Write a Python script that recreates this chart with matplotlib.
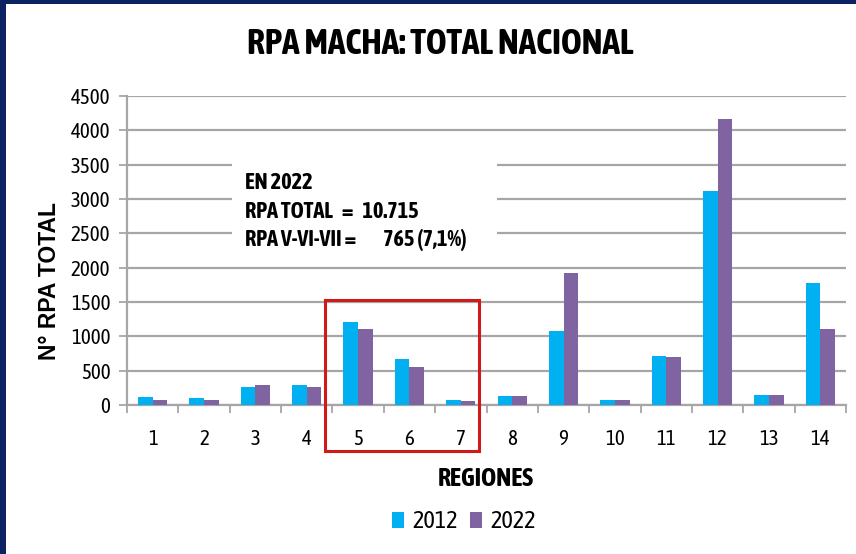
import matplotlib
matplotlib.use("Agg")
import matplotlib.pyplot as plt
from matplotlib.patches import Rectangle
import numpy as np

regions = ["1", "2", "3", "4", "5", "6", "7", "8", "9", "10", "11", "12", "13", "14"]
rpa_2012 = [110, 95, 265, 290, 1210, 665, 75, 135, 1080, 70, 715, 3120, 145, 1770]
rpa_2022 = [70, 70, 290, 265, 1100, 550, 58, 135, 1925, 70, 705, 4160, 145, 1100]
series_labels = ["2012", "2022"]
yticks = [0, 500, 1000, 1500, 2000, 2500, 3000, 3500, 4000, 4500]

NARROW = ["Asap Condensed", "Liberation Sans"]
WIDE = ["Liberation Sans", "DejaVu Sans"]

C2012 = "#00B0F0"
C2022 = "#8064A2"
GRID = "#A6A6A6"

W, H = 856, 554
fig = plt.figure(figsize=(W / 100, H / 100), dpi=100)
fig.patch.set_facecolor("white")
renderer = fig.canvas.get_renderer()

def fx(px):
    return px / W

def fy(py):
    return 1 - py / H

ax = fig.add_axes([fx(127), fy(405), fx(846) - fx(127), fy(96) - fy(405)])
x = np.arange(len(regions))
bw = 0.285
ax.bar(x - bw / 2, rpa_2012, width=bw, color=C2012, label=series_labels[0], zorder=3)
ax.bar(x + bw / 2, rpa_2022, width=bw, color=C2022, label=series_labels[1], zorder=3)

ax.set_xlim(-0.5, len(regions) - 0.5)
ax.set_ylim(0, 4500)
ax.set_yticks(yticks)
ax.set_yticklabels([str(v) for v in yticks], fontfamily=NARROW, fontsize=15)
ax.set_xticks(x)
ax.set_xticklabels(regions, fontfamily=NARROW, fontsize=15)
ax.set_xticks(np.arange(-0.5, len(regions)), minor=True)
ax.tick_params(axis="x", which="major", length=0, pad=17)
ax.tick_params(axis="x", which="minor", length=6, width=1.3, color=GRID, direction="out")
ax.tick_params(axis="y", length=6, width=1.3, color=GRID, pad=6)
ax.grid(axis="y", color=GRID, linewidth=1.6, zorder=0)
for s in ["top", "right"]:
    ax.spines[s].set_visible(False)
for s in ["left", "bottom"]:
    ax.spines[s].set_color(GRID)
    ax.spines[s].set_linewidth(1.6)
ax.set_axisbelow(True)

# text box with white background covering gridlines
ax.add_patch(Rectangle((fx(232), fy(255)), fx(497) - fx(232), fy(140) - fy(255),
                       transform=fig.transFigure, facecolor="white", edgecolor="none", zorder=2))
box_kw = dict(fontfamily=NARROW, fontweight="bold", fontsize=16, va="center", ha="left")

def text_width(s):
    t = fig.text(0, 0, s, **box_kw)
    w = t.get_window_extent(renderer).width
    t.remove()
    return w

def padded(left, right, left_end_px, right_start_px, x0=245):
    # pick number of spaces so that 'right' starts near right_start_px
    wr = text_width(right)
    best, best_err = 1, 1e9
    for n in range(1, 20):
        w = text_width(left + " " * n + right)
        err = abs(x0 + w - (right_start_px + wr))
        if err < best_err:
            best, best_err = n, err
    return left + " " * best + right

line2_left = "RPA TOTAL"
line2 = padded(line2_left, "=", 0, 342)
line2 = padded(line2, "10.715", 0, 362)
line3 = padded("RPA V-VI-VII =", "765 (7,1%)", 0, 382)

fig.text(fx(245), fy(183), "EN 2022", **box_kw)
fig.text(fx(245), fy(212), line2, **box_kw)
fig.text(fx(245), fy(240), line3, **box_kw)

# red highlight rectangle
fig.patches.append(Rectangle((fx(325), fy(451)), fx(479) - fx(325), fy(300) - fy(451),
                             transform=fig.transFigure, facecolor="none", edgecolor="#D01A1A",
                             linewidth=2.2, zorder=5))

fig.text(fx(440), fy(44), "RPA MACHA: TOTAL NACIONAL", fontfamily=NARROW, fontweight="bold",
         fontsize=25.5, ha="center", va="center")
fig.text(fx(50), fy(281), "N° RPA TOTAL", fontfamily=WIDE, fontweight="bold", fontsize=16.5,
         rotation=90, ha="center", va="center")
fig.text(fx(486), fy(478), "REGIONES", fontfamily=NARROW, fontweight="bold", fontsize=18.5,
         ha="center", va="center")

leg = fig.legend(loc="center", bbox_to_anchor=(fx(464), fy(522)), ncol=2, frameon=False,
                 prop={"family": NARROW, "size": 17.5}, handlelength=0.5, handleheight=0.65,
                 handletextpad=0.33, columnspacing=0.5, borderpad=0.0)

# navy border on left and top
fig.patches.append(Rectangle((0, 0), fx(6), 1, transform=fig.transFigure, facecolor="#0B2263",
                             edgecolor="none", zorder=10))
fig.patches.append(Rectangle((0, fy(4)), 1, 4 / H, transform=fig.transFigure, facecolor="#0B2263",
                             edgecolor="none", zorder=10))

fig.savefig("out.png", dpi=100)
